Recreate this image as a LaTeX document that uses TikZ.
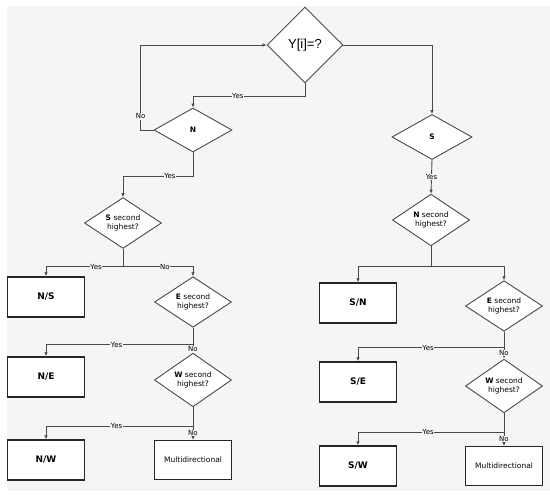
\documentclass[tikz,border=0pt]{standalone}
\usepackage{fontspec}
\setmainfont{DejaVu Sans}
\newfontfamily\qfont{Liberation Sans}
\usetikzlibrary{arrows.meta,shapes.geometric,shadows}
\definecolor{bggray}{HTML}{F5F5F5}
\definecolor{linegray}{HTML}{4A4A4A}

\begin{document}
\begin{tikzpicture}[
    x=1pt, y=-1pt,
    font=\fontsize{7.5}{9}\selectfont,
    dec/.style={diamond, draw=linegray, fill=white, line width=0.9pt, inner sep=0pt, minimum width=77pt, minimum height=46pt, align=center},
    result/.style={rectangle, draw=black!85, fill=white, line width=1.5pt, minimum width=77pt, minimum height=40pt, font=\fontsize{9}{11}\selectfont\bfseries, drop shadow={shadow xshift=0.8pt, shadow yshift=-0.8pt, opacity=0.35}},
    multi/.style={rectangle, draw=black!85, fill=white, line width=1pt, minimum width=77pt, minimum height=39pt},
    arr/.style={-{Latex[length=4pt, width=3.5pt]}, draw=linegray, line width=0.9pt},
    lnk/.style={draw=linegray, line width=0.9pt},
    lbl/.style={fill=bggray, inner sep=0.5pt, font=\fontsize{7}{8}\selectfont},
  ]
    \useasboundingbox (0,0) rectangle (550,495);
    \fill[bggray] (7,6) rectangle (550,491);

    % decisions
    \node[dec, minimum width=76pt, minimum height=76pt, font=\fontsize{13}{15}\qfont] (yq) at (305,45) {Y[i]=?};
    \node[dec, minimum width=78pt, minimum height=44pt] (n) at (193,130) {\textbf{N}};
    \node[dec, minimum width=80pt, minimum height=45pt] (s) at (432,137) {\textbf{S}};
    \node[dec] (ns2) at (123,223) {\textbf{S} second\\highest?};
    \node[dec] (ne2) at (193,302) {\textbf{E} second\\highest?};
    \node[dec] (nw2) at (193,380) {\textbf{W} second\\highest?};
    \node[dec] (sn2) at (431,220) {\textbf{N} second\\highest?};
    \node[dec, minimum height=43pt] (se2) at (504,306) {\textbf{E} second\\highest?};
    \node[dec] (sw2) at (504,386) {\textbf{W} second\\highest?};

    % results
    \node[result] (rns) at (46,297) {N/S};
    \node[result] (rne) at (46,377) {N/E};
    \node[result] (rnw) at (46,460) {N/W};
    \node[multi] (rnm) at (193,460) {Multidirectional};
    \node[result] (rsn) at (358,303) {S/N};
    \node[result] (rse) at (358,382) {S/E};
    \node[result] (rsw) at (358,466) {S/W};
    \node[multi] (rsm) at (504,466) {Multidirectional};

    % top
    \draw[arr] (yq.south) -- ++(0,13) -| node[lbl, pos=0.3]{Yes} (n.north);
    \draw[arr] (n.west) -- ++(-13,0) |- node[lbl, pos=0.08]{No} (yq.west);
    \draw[arr] (yq.east) -| (s.north);

    % N branch
    \draw[arr] (n.south) -- ++(0,24) -| node[lbl, pos=0.165]{Yes} (ns2.north);
    \draw[lnk] (ns2.south) -- ++(0,18) coordinate (j1);
    \draw[arr] (j1) -| node[lbl, pos=0.175]{Yes} (rns.north);
    \draw[arr] (j1) -| node[lbl, pos=0.3]{No} (ne2.north);
    \draw[lnk] (ne2.south) -- ++(0,17) coordinate (j2);
    \draw[arr] (j2) -| node[lbl, pos=0.26]{Yes} (rne.north);
    \draw[arr] (j2) -- node[lbl]{No} (nw2.north);
    \draw[lnk] (nw2.south) -- ++(0,19) coordinate (j3);
    \draw[arr] (j3) -| node[lbl, pos=0.26]{Yes} (rnw.north);
    \draw[arr] (j3) -- node[lbl]{No} (rnm.north);

    % S branch
    \draw[arr] (s.south) -- node[lbl]{Yes} (sn2.north);
    \draw[lnk] (sn2.south) -- ++(0,20) coordinate (k1);
    \draw[arr] (k1) -| (rsn.north);
    \draw[arr] (k1) -| (se2.north);
    \draw[lnk] (se2.south) -- ++(0,16) coordinate (k2);
    \draw[arr] (k2) -| node[lbl, pos=0.26]{Yes} (rse.north);
    \draw[arr] (k2) -- node[lbl]{No} (sw2.north);
    \draw[lnk] (sw2.south) -- ++(0,19) coordinate (k3);
    \draw[arr] (k3) -| node[lbl, pos=0.26]{Yes} (rsw.north);
    \draw[arr] (k3) -- node[lbl]{No} (rsm.north);
\end{tikzpicture}
\end{document}
